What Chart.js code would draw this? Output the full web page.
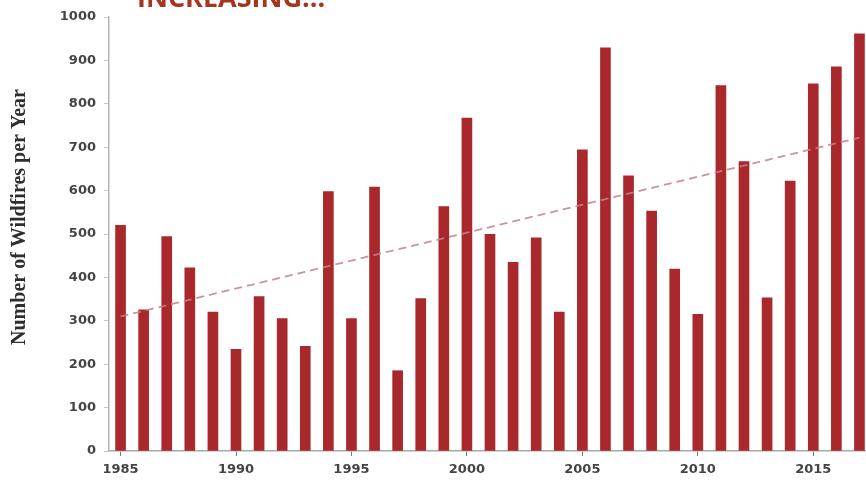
<!DOCTYPE html>
<html>
<head>
<meta charset="utf-8">
<script src="https://cdn.jsdelivr.net/npm/chart.js@4/dist/chart.umd.min.js"></script>
<style>
  html, body { margin: 0; padding: 0; overflow: hidden; background: #fff; }
  #wrap { position: absolute; left: 0; top: 0; width: 871px; height: 482px; }
</style>
</head>
<body>
<div id="wrap"><canvas id="c" width="871" height="482"></canvas></div>
<script>
// ---- data ----
const years = ['1985','1986','1987','1988','1989','1990','1991','1992','1993','1994','1995','1996','1997','1998','1999','2000','2001','2002','2003','2004','2005','2006','2007','2008','2009','2010','2011','2012','2013','2014','2015','2016','2017'];
const wildfires = [520, 325, 494, 422, 320, 234, 356, 305, 241, 598, 305, 608, 185, 351, 563, 767, 499, 435, 491, 320, 694, 929, 634, 553, 419, 315, 842, 667, 353, 622, 846, 885, 961];
const trendStart = 310;
const trendEnd = 722;
const trend = years.map((y, i) => i === 0 ? trendStart : (i === years.length - 1 ? trendEnd : null));
const yTicks = [0, 100, 200, 300, 400, 500, 600, 700, 800, 900, 1000];
const headingText = 'INCREASING...';
const yTitleText = 'Number of Wildfires per Year';

const textPlugin = {
  id: 'texts',
  afterDraw(chart) {
    const ctx = chart.ctx;
    ctx.save();
    ctx.fillStyle = '#a5351f';
    ctx.font = 'bold 27px "Open Sans"';
    ctx.textAlign = 'left';
    ctx.textBaseline = 'alphabetic';
    ctx.fillText(headingText, 137, 7);
    ctx.restore();

    ctx.save();
    ctx.translate(20, 217);
    ctx.rotate(-Math.PI / 2);
    ctx.fillStyle = '#2e2e2e';
    ctx.font = 'bold 20px "Liberation Serif"';
    ctx.textAlign = 'center';
    ctx.textBaseline = 'middle';
    ctx.fillText(yTitleText, 0, 0);
    ctx.restore();
  }
};

new Chart(document.getElementById('c'), {
  type: 'bar',
  data: {
    labels: years,
    datasets: [
      {
        type: 'line',
        data: trend,
        spanGaps: true,
        borderColor: 'rgba(196, 128, 140, 0.85)',
        borderWidth: 1.8,
        borderDash: [8, 5],
        pointRadius: 0,
        fill: false,
        order: 0
      },
      {
        data: wildfires,
        backgroundColor: '#a9282b',
        barThickness: 10,
        order: 1
      }
    ]
  },
  plugins: [textPlugin],
  options: {
    responsive: false,
    animation: false,
    devicePixelRatio: 1,
    layout: { padding: { top: 17, left: 0, right: 0, bottom: 0 } },
    plugins: { legend: { display: false }, tooltip: { enabled: false } },
    scales: {
      x: {
        type: 'category',
        offset: true,
        afterFit(s) { s.height = 31; },
        border: { display: true, color: '#a9a9a9', width: 1.5 },
        grid: {
          offset: false,
          drawOnChartArea: false,
          drawTicks: true,
          tickLength: 5,
          color: (c) => (c.index % 5 === 0 ? '#777' : 'rgba(0,0,0,0)')
        },
        ticks: {
          autoSkip: false,
          maxRotation: 0,
          minRotation: 0,
          padding: 6,
          color: '#444',
          font: { family: '"DejaVu Sans"', weight: 'bold', size: 13 },
          callback(v, i) { return (Number(years[i]) % 5 === 0) ? years[i] : ''; }
        }
      },
      y: {
        min: 0,
        max: 1000,
        afterFit(s) { s.width = 109; },
        afterBuildTicks(s) { s.ticks = yTicks.map(v => ({ value: v })); },
        border: { display: true, color: '#b5b5b5', width: 1.5 },
        grid: { drawOnChartArea: false, drawTicks: true, tickLength: 5, color: '#c8c8c8' },
        ticks: {
          padding: 8,
          color: '#444',
          font: { family: '"DejaVu Sans"', weight: 'bold', size: 13 },
          callback(v) { return String(v); }
        }
      }
    }
  }
});
</script>
</body>
</html>
